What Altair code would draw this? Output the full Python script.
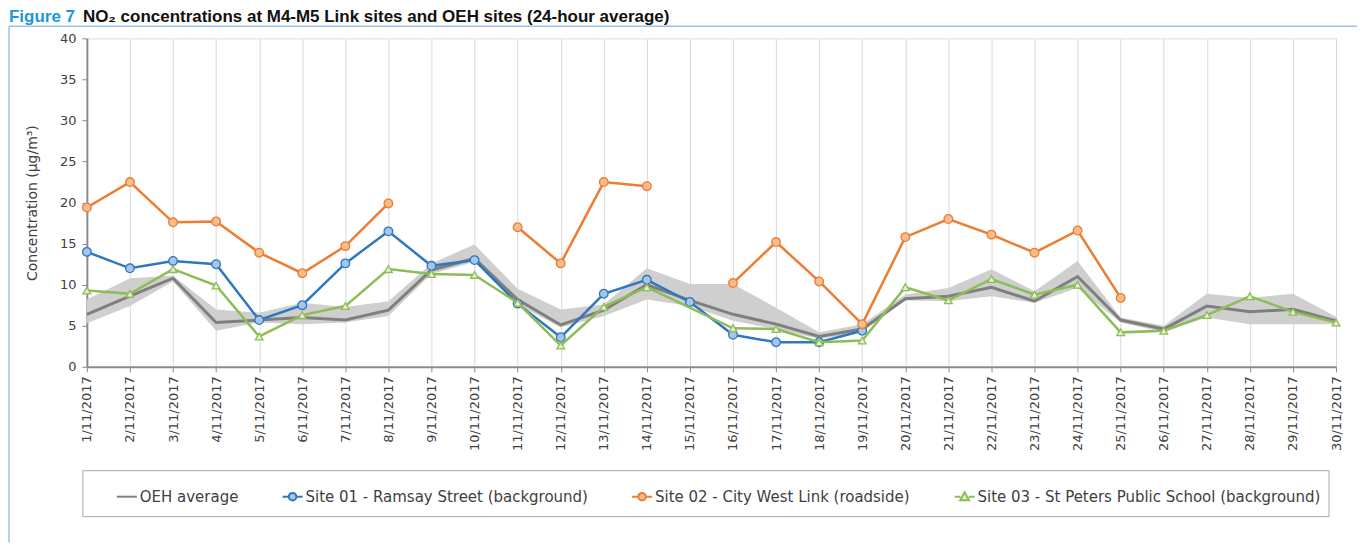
import altair as alt
import pandas as pd

# ---------------- data ----------------
dates = ["1/11/2017", "2/11/2017", "3/11/2017", "4/11/2017", "5/11/2017", "6/11/2017",
         "7/11/2017", "8/11/2017", "9/11/2017", "10/11/2017", "11/11/2017", "12/11/2017",
         "13/11/2017", "14/11/2017", "15/11/2017", "16/11/2017", "17/11/2017", "18/11/2017",
         "19/11/2017", "20/11/2017", "21/11/2017", "22/11/2017", "23/11/2017", "24/11/2017",
         "25/11/2017", "26/11/2017", "27/11/2017", "28/11/2017", "29/11/2017", "30/11/2017"]

oeh_avg = [6.4, 8.6, 10.8, 5.4, 5.7, 6.0, 5.7, 6.9, 11.8, 13.2,
           8.2, 5.1, 6.9, 10.0, 8.1, 6.4, 5.2, 3.7, 4.6, 8.3,
           8.6, 9.7, 8.0, 11.0, 5.7, 4.6, 7.4, 6.7, 7.0, 5.6]
oeh_min = [5.3, 7.4, 10.4, 4.4, 5.4, 5.2, 5.4, 6.2, 11.3, 12.8,
           7.6, 4.8, 6.2, 8.2, 7.4, 5.6, 4.6, 3.4, 4.2, 8.1,
           8.0, 8.6, 7.8, 9.6, 5.4, 4.2, 6.0, 5.2, 5.2, 5.2]
oeh_max = [8.2, 10.8, 11.1, 7.0, 6.6, 7.8, 7.3, 8.0, 12.6, 14.9,
           9.5, 7.0, 7.6, 12.0, 10.1, 10.1, 7.2, 4.2, 5.2, 8.8,
           9.6, 11.9, 9.2, 12.9, 6.0, 5.0, 8.9, 8.4, 8.9, 6.1]
site01 = [14.0, 12.0, 12.9, 12.5, 5.7, 7.5, 12.6, 16.5, 12.3, 13.0,
          7.7, 3.6, 8.9, 10.6, 7.9, 3.9, 3.0, 3.0, 4.4, None,
          None, None, None, None, None, None, None, None, None, None]
site02 = [19.4, 22.5, 17.6, 17.7, 13.9, 11.4, 14.7, 19.9, None, None,
          17.0, 12.6, 22.5, 22.0, None, 10.2, 15.2, 10.4, 5.2, 15.8,
          18.0, 16.1, 13.9, 16.6, 8.4, None, None, None, None, None]
site03 = [9.3, 8.9, 11.9, 9.9, 3.7, 6.3, 7.4, 11.9, 11.3, 11.2,
          7.8, 2.6, 7.3, 9.7, None, 4.7, 4.6, 3.0, 3.2, 9.7,
          8.1, 10.7, 8.8, 10.0, 4.2, 4.4, 6.3, 8.6, 6.7, 5.4]

series_names = ["OEH average",
                "Site 01 - Ramsay Street (background)",
                "Site 02 - City West Link (roadside)",
                "Site 03 - St Peters Public School (background)"]
y_ticks = [0, 5, 10, 15, 20, 25, 30, 35, 40]
title_label = ["Figure 7"]
title_text = ["NO\u2082 concentrations at M4-M5 Link sites and OEH sites (24-hour average)"]
y_title = "Concentration (\u00b5g/m\u00b3)"

# ---------------- styles ----------------
line_colors = ["#7f7f7f", "#2e78bd", "#ed7d31", "#8dbd55"]
fill_colors = ["#7f7f7f", "#a3c6e9", "#f7bd8c", "#e3efcf"]
band_color = "#cfcfcf"
FONT = "DejaVu Sans"
TXT = "#404040"
AXC = "#8c8c8c"
W, H = 1251, 329

# ---------------- tables ----------------
band_df = pd.DataFrame({"date": dates, "lo": oeh_min, "hi": oeh_max})


def series_frame(name, vals, break_gaps):
    rows = []
    seg = 0
    for d, v in zip(dates, vals):
        if v is None:
            if break_gaps:
                seg += 1
            continue
        rows.append({"date": d, "value": v, "series": name, "seg": seg})
    return pd.DataFrame(rows)


oeh_df = series_frame(series_names[0], oeh_avg, False)
s1_df = series_frame(series_names[1], site01, True)
s2_df = series_frame(series_names[2], site02, True)
s3_df = series_frame(series_names[3], site03, False)

# ---------------- encodings ----------------
x_enc = alt.X(
    "date:N", sort=dates,
    scale=alt.Scale(type="point", domain=dates, padding=0),
    axis=alt.Axis(title=None, labelAngle=270, labelFontSize=13, labelFont=FONT,
                  labelColor=TXT, labelPadding=4, labelOverlap=False,
                  tickColor=AXC, tickSize=5, tickWidth=1,
                  domainColor=AXC, domainWidth=2,
                  grid=True, gridColor="#d9d9d9", gridWidth=1))


def y_enc(field):
    return alt.Y(
        f"{field}:Q",
        scale=alt.Scale(domain=[0, 40], nice=False, zero=True),
        axis=alt.Axis(title=y_title, values=y_ticks, labelFontSize=13, labelFont=FONT,
                      labelColor=TXT, labelPadding=6, tickColor=AXC, tickSize=5,
                      domainColor=AXC, domainWidth=2, grid=False,
                      titleFont=FONT, titleFontSize=14, titleFontWeight="normal",
                      titleColor=TXT, titlePadding=20))


layers = []

# band (OEH range)
layers.append(alt.Chart(band_df).mark_area(color=band_color, opacity=1).encode(
    x=x_enc, y=y_enc("lo"), y2="hi:Q"))

# OEH average line
layers.append(alt.Chart(oeh_df).mark_line(color=line_colors[0], strokeWidth=3).encode(
    x=x_enc, y=y_enc("value")))

# sites
site_specs = [(s1_df, 1, "circle"), (s2_df, 2, "circle"), (s3_df, 3, "triangle-up")]
for df, i, shp in site_specs:
    layers.append(alt.Chart(df).mark_line(color=line_colors[i], strokeWidth=2.5).encode(
        x=x_enc, y=y_enc("value"), detail="seg:N"))
    layers.append(alt.Chart(df).mark_point(
        shape=shp, fill=fill_colors[i], stroke=line_colors[i], fillOpacity=1,
        strokeWidth=1.3, size=75 if shp == "circle" else 60, opacity=1).encode(
        x=x_enc, y=y_enc("value")))

# legend (invisible points, visible legend)
sym_line = "M-1,0H1"
sym_circ = ("M-1,0H-0.38M0.38,0H1M0.38,0A0.38,0.38 0 1,1 -0.38,0"
            "A0.38,0.38 0 1,1 0.38,0Z")
sym_tri = "M-1,0H-0.42M0.42,0H1M0,-0.45L0.45,0.35L-0.45,0.35Z"
legend_df = pd.DataFrame({"series": series_names})
leg = alt.Legend(title=None, orient="none", legendX=29, legendY=448,
                 direction="horizontal", columns=4, labelFont=FONT, labelFontSize=15,
                 labelColor=TXT, labelLimit=0, symbolSize=400, symbolStrokeWidth=2,
                 symbolOpacity=1, columnPadding=40, labelOffset=2, padding=0)
layers.append(alt.Chart(legend_df).mark_point(opacity=0, filled=True).encode(
    shape=alt.Shape("series:N", scale=alt.Scale(domain=series_names,
                    range=[sym_line, sym_circ, sym_circ, sym_tri]), legend=leg),
    fill=alt.Fill("series:N", scale=alt.Scale(domain=series_names, range=fill_colors),
                  legend=leg),
    stroke=alt.Stroke("series:N", scale=alt.Scale(domain=series_names, range=line_colors),
                      legend=leg)))

# legend box
layers.append(alt.Chart(legend_df.head(1)).mark_rect(
    fill="white", fillOpacity=0, stroke="#a6a6a6", strokeWidth=1).encode(
    x=alt.value(-4), x2=alt.value(1244), y=alt.value(433), y2=alt.value(479)))

# figure frame (left and top edges)
layers.append(alt.Chart(legend_df.head(1)).mark_rule(color="#9dc3e6", strokeWidth=1.5).encode(
    x=alt.value(-78), y=alt.value(-12), y2=alt.value(505)))
layers.append(alt.Chart(legend_df.head(1)).mark_rule(color="#9dc3e6", strokeWidth=1.5).encode(
    x=alt.value(-78), x2=alt.value(1272), y=alt.value(-12)))

# figure title
layers.append(alt.Chart(pd.DataFrame({"t": title_label})).mark_text(
    align="left", baseline="top", font="Liberation Sans", fontSize=17, fontWeight="bold",
    color="#1a9ad6").encode(text="t:N", x=alt.value(-78), y=alt.value(-29)))
layers.append(alt.Chart(pd.DataFrame({"t": title_text})).mark_text(
    align="left", baseline="top", font="Liberation Sans", fontSize=17, fontWeight="bold",
    color="#111111").encode(text="t:N", x=alt.value(-4), y=alt.value(-29)))

chart = alt.layer(*layers).properties(width=W, height=H, padding=0).configure_view(
    fill="#f2f2f2", stroke=AXC, strokeWidth=2
).configure(background="white")

chart.save("out.html", embed_options={"renderer": "svg", "actions": False})
